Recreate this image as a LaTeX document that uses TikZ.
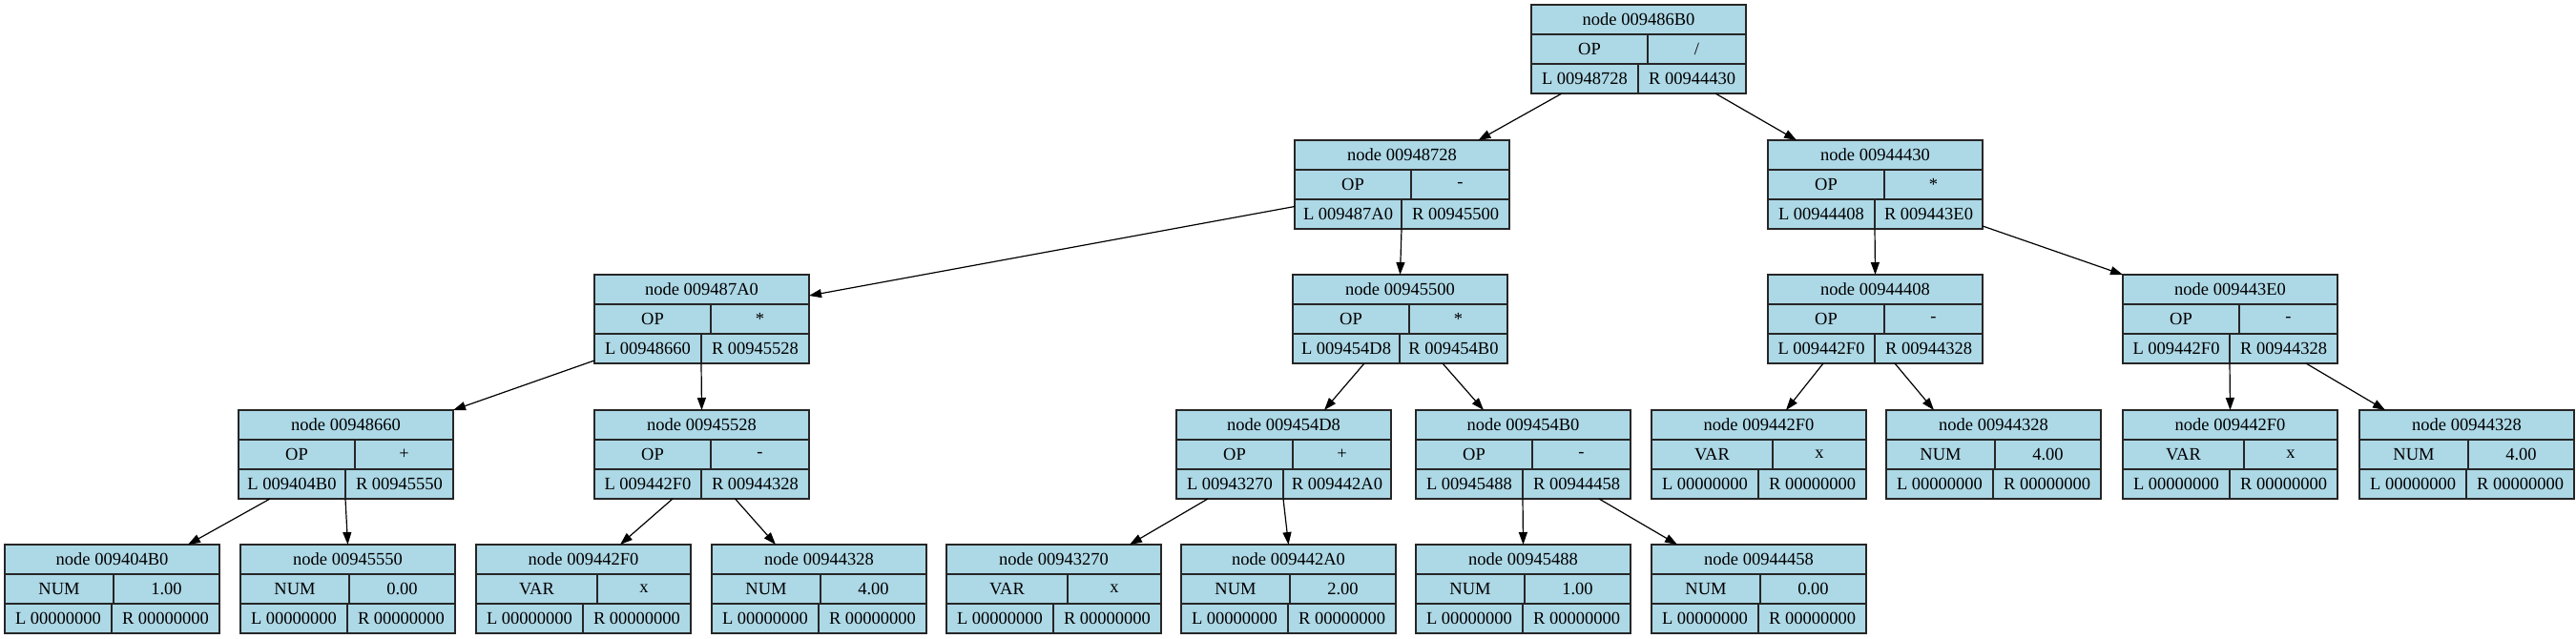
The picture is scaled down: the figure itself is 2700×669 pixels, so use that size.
\documentclass[tikz,border=0pt]{standalone}
\usepackage{fontspec}
\setmainfont{Liberation Serif}
\usepackage{tikz}
\usetikzlibrary{arrows.meta,calc}
\definecolor{lightblue}{HTML}{ADD8E6}
\tikzset{
  cell/.style = {draw=black!85, fill=lightblue, line width=1.3pt, anchor=north west,
                 minimum height=31pt, inner sep=0pt, outer sep=0pt,
                 font=\fontsize{18.5}{20}\selectfont},
  edge/.style = {-{Triangle[length=13pt,width=9pt]}, line width=1.2pt, black},
}
% #1 name, #2 left, #3 top, #4 address, #5 type, #6 value, #7 left, #8 right, #9 split
\newcommand\record[9]{%
  \pgfmathsetmacro\restw{225-#9}
  \node[cell, minimum width=225pt]      (#1-h) at (#2,#3)            {node #4};
  \node[cell, minimum width=#9pt]       (#1-t) at (#1-h.south west)  {#5};
  \node[cell, minimum width=\restw pt]  (#1-v) at (#1-t.north east)  {#6};
  \node[cell, minimum width=112pt]      (#1-l) at (#1-t.south west)  {L #7};
  \node[cell, minimum width=113pt]      (#1-r) at (#1-l.north east)  {R #8};
}

\begin{document}
\begin{tikzpicture}[x=1pt,y=-1pt]
\useasboundingbox (0,0) rectangle (2700,669);

\record{t}{1605}{5}{009486B0}{OP}{/}{00948728}{00944430}{122}

\record{tl}{1357}{147}{00948728}{OP}{-}{009487A0}{00945500}{122}
\record{tr}{1853}{147}{00944430}{OP}{*}{00944408}{009443E0}{122}

\record{tll}{623}{288}{009487A0}{OP}{*}{00948660}{00945528}{122}
\record{tlr}{1355}{288}{00945500}{OP}{*}{009454D8}{009454B0}{122}
\record{trl}{1853}{288}{00944408}{OP}{-}{009442F0}{00944328}{122}
\record{trr}{2225}{288}{009443E0}{OP}{-}{009442F0}{00944328}{122}

\record{tlll}{250}{430}{00948660}{OP}{+}{009404B0}{00945550}{122}
\record{tllr}{623}{430}{00945528}{OP}{-}{009442F0}{00944328}{122}
\record{tlrl}{1233}{430}{009454D8}{OP}{+}{00943270}{009442A0}{122}
\record{tlrr}{1484}{430}{009454B0}{OP}{-}{00945488}{00944458}{122}
\record{trll}{1731}{430}{009442F0}{VAR}{x}{00000000}{00000000}{127}
\record{trlr}{1977}{430}{00944328}{NUM}{4.00}{00000000}{00000000}{114}
\record{trrl}{2225}{430}{009442F0}{VAR}{x}{00000000}{00000000}{127}
\record{trrr}{2473}{430}{00944328}{NUM}{4.00}{00000000}{00000000}{114}

\record{tllll}{5}{571}{009404B0}{NUM}{1.00}{00000000}{00000000}{114}
\record{tlllr}{252}{571}{00945550}{NUM}{0.00}{00000000}{00000000}{114}
\record{tllrl}{499}{571}{009442F0}{VAR}{x}{00000000}{00000000}{127}
\record{tllrr}{746}{571}{00944328}{NUM}{4.00}{00000000}{00000000}{114}
\record{tlrll}{992}{571}{00943270}{VAR}{x}{00000000}{00000000}{127}
\record{tlrlr}{1238}{571}{009442A0}{NUM}{2.00}{00000000}{00000000}{114}
\record{tlrrl}{1484}{571}{00945488}{NUM}{1.00}{00000000}{00000000}{114}
\record{tlrrr}{1731}{571}{00944458}{NUM}{0.00}{00000000}{00000000}{114}

\draw[edge] ([xshift=-24pt]t-l.south) -- ([xshift=80pt]tl-h.north);
\draw[edge] ([xshift=24.5pt]t-r.south) -- ([xshift=-82.5pt]tr-h.north);

\draw[edge] ([yshift=8pt]tl-l.west) -- ([yshift=-6.5pt]tll-h.east);
\draw[edge] (tl-r.south west) -- (tlr-h.north);
\draw[edge] (tr-r.south west) -- (trl-h.north);
\draw[edge] ([yshift=-12.5pt]tr-r.east) -- (trr-h.north west);

\draw[edge] ([yshift=-12.5pt]tll-l.west) -- (tlll-h.north east);
\draw[edge] (tll-r.south west) -- (tllr-h.north);
\draw[edge] ([xshift=19pt]tlr-l.south) -- ([xshift=42.5pt]tlrl-h.north);
\draw[edge] ([xshift=-11.5pt]tlr-r.south) -- ([xshift=-41.5pt]tlrr-h.north);
\draw[edge] ([xshift=2pt]trl-l.south) -- ([xshift=28.5pt]trll-h.north);
\draw[edge] ([xshift=-35.5pt]trl-r.south) -- ([xshift=-62.5pt]trlr-h.north);
\draw[edge] (trr-r.south west) -- (trrl-h.north);
\draw[edge] ([xshift=23.5pt]trr-r.south) -- ([xshift=-85.5pt]trrr-h.north);

\draw[edge] ([xshift=-23pt]tlll-l.south) -- ([xshift=79.5pt]tllll-h.north);
\draw[edge] (tlll-r.south west) -- (tlllr-h.north);
\draw[edge] ([xshift=26pt]tllr-l.south) -- ([xshift=38.5pt]tllrl-h.north);
\draw[edge] ([xshift=-21pt]tllr-r.south) -- ([xshift=-45.5pt]tllrr-h.north);
\draw[edge] ([xshift=-23pt]tlrl-l.south) -- ([xshift=79.5pt]tlrll-h.north);
\draw[edge] (tlrl-r.south west) -- (tlrlr-h.north);
\draw[edge] (tlrr-r.south west) -- (tlrrl-h.north);
\draw[edge] ([xshift=23.5pt]tlrr-r.south) -- ([xshift=-85.5pt]tlrrr-h.north);
\end{tikzpicture}
\end{document}
